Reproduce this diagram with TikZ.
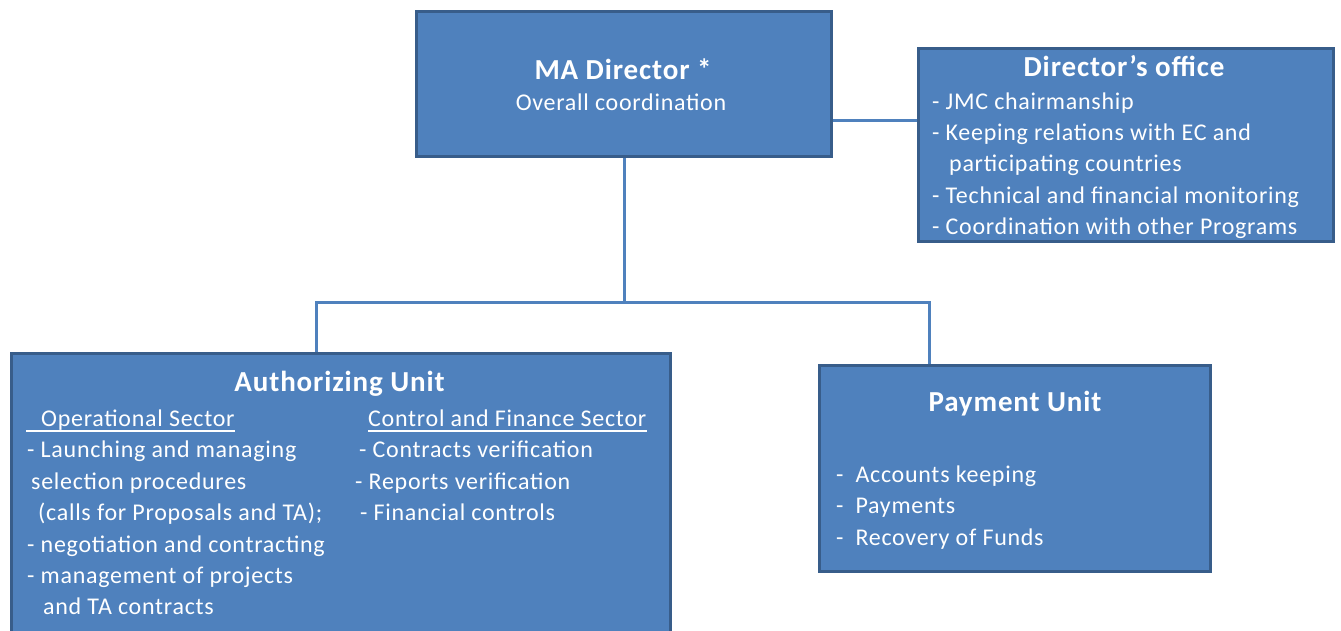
\documentclass[tikz,border=0pt]{standalone}
\usepackage{fontspec}
\setmainfont{Carlito}[LetterSpace=3.0]
\usetikzlibrary{positioning}
\usetikzlibrary{calc}

\definecolor{unitfill}{HTML}{4F81BD}
\definecolor{unitedge}{HTML}{385D8A}

\begin{document}
\begin{tikzpicture}[x=1pt, y=-1pt]
    \useasboundingbox (0,0) rectangle (1341,630);
    \clip (0,0) rectangle (1341,630);

    \tikzstyle{unit} = [draw=unitedge, fill=unitfill, line width=3pt, rectangle, inner sep=0pt]
    \tikzstyle{head} = [text=white, inner sep=0pt, anchor=base, font=\bfseries\fontsize{29pt}{34pt}\selectfont]
    \tikzstyle{body} = [text=white, inner sep=0pt, anchor=base west, font=\fontsize{24pt}{30pt}\selectfont]
    \tikzstyle{link} = [draw=unitfill, line width=3pt]
    \tikzstyle{uline} = [draw=white, line width=1.4pt]

    % the four boxes
    \node[unit, minimum width=415pt, minimum height=145pt] (dir) at (624, 84) {};
    \node[unit, minimum width=415pt, minimum height=193pt] (office) at (1126, 145) {};
    \node[unit, minimum width=659pt, minimum height=307pt] (auth) at (341, 507) {};
    \node[unit, minimum width=391pt, minimum height=206pt] (pay) at (1015, 468.5) {};

    % connectors between the boxes
    \coordinate (busL) at (316, 302);
    \coordinate (busR) at (929, 302);
    \draw[link] ([yshift=-36pt]dir.east) -- ([yshift=-36pt]dir.east -| office.west);
    \draw[link] (dir.south) -- (dir.south |- busL);
    \draw[link] (busL |- auth.north) -- (busL) -- (busR) -- (busR |- pay.north);

    % MA director
    \node[head] (dirT) at (623, 79.3) {MA Director *};
    \node[body, anchor=base] (dirS) at (621, 110.3) {Overall coordination};

    % director's office
    \node[head] (officeT) at (1124, 76) {Director’s office};
    \foreach \x/\t [count=\i] in {932/{- JMC chairmanship},
                                  932/{- Keeping relations with EC and},
                                  949/{participating countries},
                                  932/{- Technical and financial monitoring},
                                  932/{- Coordination with other Programs}} {
        \node[body] (office\i) at (\x, {109.3 + 31.3*(\i-1)}) {\t};
    }

    % authorizing unit
    \node[head] (authT) at (339.5, 391.5) {Authorizing Unit};
    \node[body] (opsec) at (41, 426.3) {Operational Sector};
    \node[body] (cfsec) at (368, 426.3) {Control and Finance Sector};
    \draw[uline] ([xshift=-15pt, yshift=-4.7pt]opsec.base west) -- ([yshift=-4.7pt]opsec.base east);
    \draw[uline] ([yshift=-4.7pt]cfsec.base west) -- ([yshift=-4.7pt]cfsec.base east);
    \foreach \x/\t [count=\i] in {27/{- Launching and managing},
                                  31/{selection procedures},
                                  38/{(calls for Proposals and TA);},
                                  27/{- negotiation and contracting},
                                  27/{- management of projects},
                                  43/{and TA contracts}} {
        \node[body] (op\i) at (\x, {457.8 + 31.4*(\i-1)}) {\t};
    }
    \foreach \x/\t [count=\i] in {359/{- Contracts verification},
                                  355/{- Reports verification},
                                  360/{- Financial controls}} {
        \node[body] (cf\i) at (\x, {457.8 + 31.4*(\i-1)}) {\t};
    }

    % payment unit
    \node[head] (payT) at (1015, 411) {Payment Unit};
    \foreach \t [count=\i] in {Accounts keeping, Payments, Recovery of Funds} {
        \node[body] (pay\i) at (836, {482.2 + 31.5*(\i-1)}) {-\hspace{12pt}\t};
    }

\end{tikzpicture}
\end{document}
